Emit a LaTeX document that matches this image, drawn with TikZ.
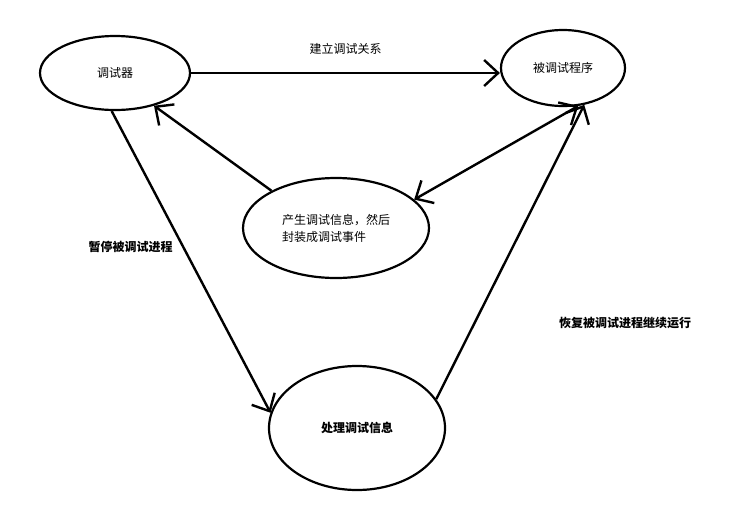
\documentclass[tikz,border=0pt]{standalone}
\usepackage{fontspec}
\setmainfont{Noto Sans CJK SC}
\usetikzlibrary{arrows.meta,shapes.geometric}

\begin{document}
\begin{tikzpicture}[x=1pt,y=-1pt,
  state/.style={draw,ellipse,line width=2.2pt,font=\fontsize{12}{17}\selectfont},
  link/.style={line width=2.4pt,-{Straight Barb[length=14pt,width=26pt,line width=2.4pt]}},
  both/.style={line width=2.4pt,{Straight Barb[length=14pt,width=26pt,line width=2.4pt]}-{Straight Barb[length=14pt,width=26pt,line width=2.4pt]}}]
\useasboundingbox[fill=white] (0,0) rectangle (741,504);
%%%% states
\node[state,minimum width=150pt,minimum height=74pt] (dbg) at (115,73) {调试器};
\node[state,minimum width=124pt,minimum height=76pt] (prog) at (563,68) {被调试程序};
\node[state,minimum width=186pt,minimum height=100pt,align=left] (evt) at (336,228) {产生调试信息，然后\\封装成调试事件};
\node[state,minimum width=176pt,minimum height=124pt,font=\fontsize{12}{17}\selectfont\bfseries] (proc) at (357,428) {处理调试信息};
%%%% connectors
\draw[link] (dbg.east) -- (dbg.east -| prog.west) node[midway,above=14pt,font=\fontsize{12}{17}\selectfont]{建立调试关系};
\draw[link] (evt.150) -- (dbg.-40);
\draw[both] (prog.-68) -- (evt.20);
\draw[link] (dbg.-95) -- (proc.170) node[pos=0.45,left=6pt,font=\fontsize{12}{17}\selectfont\bfseries]{暂停被调试进程};
\draw[link] (proc.20) -- (prog.-60);
\node[font=\fontsize{12}{17}\selectfont\bfseries] (resume) at (625,323) {恢复被调试进程继续运行};
\end{tikzpicture}
\end{document}
